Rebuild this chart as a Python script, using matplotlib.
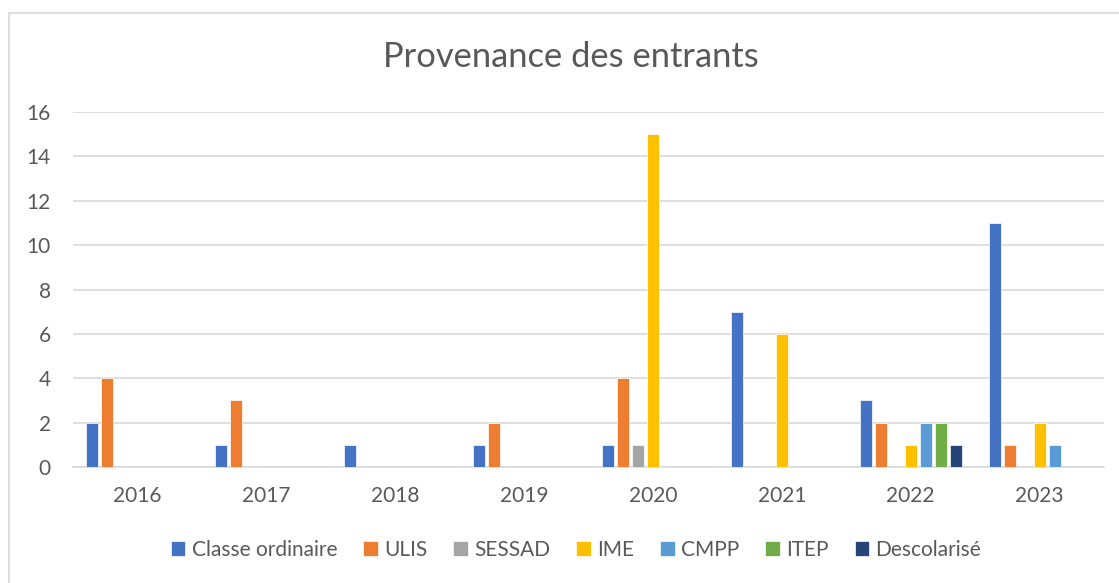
import matplotlib
matplotlib.use("Agg")
import matplotlib.pyplot as plt
from matplotlib.patches import Rectangle
import numpy as np

years = ["2016", "2017", "2018", "2019", "2020", "2021", "2022", "2023"]
series_names = ["Classe ordinaire", "ULIS", "SESSAD", "IME", "CMPP", "ITEP", "Descolarisé"]
classe_ordinaire = [2, 1, 1, 1, 1, 7, 3, 11]
ulis = [4, 3, 0, 2, 4, 0, 2, 1]
sessad = [0, 0, 0, 0, 1, 0, 0, 0]
ime = [0, 0, 0, 0, 15, 6, 1, 2]
cmpp = [0, 0, 0, 0, 0, 0, 2, 1]
itep = [0, 0, 0, 0, 0, 0, 2, 0]
descolarise = [0, 0, 0, 0, 0, 0, 1, 0]
yticks = [0, 2, 4, 6, 8, 10, 12, 14, 16]

colors = ["#4472C4", "#ED7D31", "#A5A5A5", "#FFC000", "#5B9BD5", "#70AD47", "#264478"]
all_series = [classe_ordinaire, ulis, sessad, ime, cmpp, itep, descolarise]

plt.rcParams['font.family'] = ['Lato', 'DejaVu Sans']
W, H = 1119, 583
fig = plt.figure(figsize=(W / 100, H / 100), dpi=100)
fig.patch.set_facecolor("white")

# chart border
fig.patches.append(Rectangle((9 / W, -0.1), 1.2, (H - 13) / H + 0.1, transform=fig.transFigure,
                             fill=False, edgecolor="#D9D9D9", linewidth=1.2))

left, right, top, bottom = 73, 1104, 112, 467
ax = fig.add_axes([left / W, (H - bottom) / H, (right - left) / W, (bottom - top) / H])

x = np.arange(len(years))
n = len(series_names)
step = 15 / 128.9
bw = 12 / 128.9
for i, (name, vals, c) in enumerate(zip(series_names, all_series, colors)):
    offs = (i - (n - 1) / 2) * step
    ax.bar(x + offs, vals, width=bw, color=c, label=name, edgecolor="white", linewidth=0.5, zorder=3)

ax.set_xlim(-0.5, len(years) - 0.5)
ax.set_ylim(0, 16)
ax.set_yticks(yticks)
ax.set_xticks(x)
ax.set_xticklabels(years)
ax.grid(axis="y", color="#D9D9D9", linewidth=1.2, zorder=0)
for s in ["top", "right", "left"]:
    ax.spines[s].set_visible(False)
ax.spines["bottom"].set_color("#D9D9D9")
ax.spines["bottom"].set_linewidth(1.2)
ax.tick_params(axis="both", length=0, labelsize=15, colors="#595959")
ax.tick_params(axis="x", pad=14)
ax.tick_params(axis="y", pad=16)

fig.text(571 / W, 1 - 57 / H, "Provenance des entrants", ha="center", va="center",
         fontsize=24.8, color="#595959")

handles, labels = ax.get_legend_handles_labels()
fig.legend(handles, labels, loc="center", bbox_to_anchor=(576 / W, 1 - 550 / H), ncol=7,
           frameon=False, fontsize=15, labelcolor="#595959", handlelength=0.7,
           handleheight=0.7, handletextpad=0.3, columnspacing=1.25)

fig.savefig("out.png", dpi=100, facecolor="white")
